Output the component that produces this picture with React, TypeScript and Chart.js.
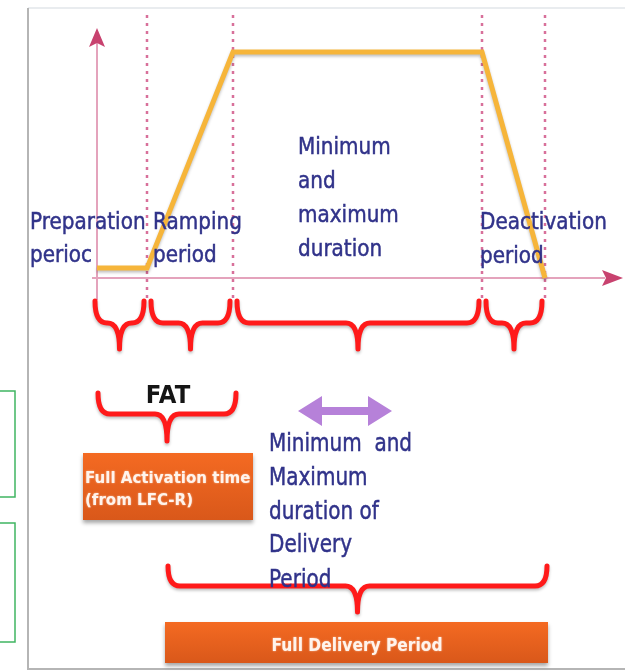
import { useEffect, useRef } from "react";
import { Chart, registerables } from "chart.js";

Chart.register(...registerables);

// Activation profile (time in arbitrary units, power normalised 0..1)
const phaseTimes = [0, 1, 2.72, 7.7, 8.96];
const powerLevels = [0.044, 0.044, 1, 1, 0];

const phaseLabels = [
  ["Preparation", "perioc"],
  ["Ramping", "period"],
  ["Minimum", "and", "maximum", "duration"],
  ["Deactivation", "period"],
];
const fatLabel = "FAT";
const fatBoxLines = ["Full Activation time", "(from LFC-R)"];
const deliveryNoteLines = ["Minimum  and", "Maximum", "duration of", "Delivery", "Period"];
const deliveryBoxLabel = "Full Delivery Period";

const NAVY = "#31338a";
const RED = "#ff1a1a";

function drawText(
  ctx: CanvasRenderingContext2D,
  s: string,
  x: number,
  y: number,
  font: string,
  color: string,
  sx: number,
  align: CanvasTextAlign = "left",
  stroke = 0
) {
  ctx.save();
  ctx.font = font;
  ctx.fillStyle = color;
  ctx.textAlign = align;
  ctx.textBaseline = "alphabetic";
  ctx.translate(x, y);
  ctx.scale(sx, 1);
  ctx.fillText(s, 0, 0);
  if (stroke > 0) {
    ctx.strokeStyle = color;
    ctx.lineWidth = stroke;
    ctx.strokeText(s, 0, 0);
  }
  ctx.restore();
}

function brace(
  ctx: CanvasRenderingContext2D,
  x0: number,
  x1: number,
  yTop: number,
  yMid: number,
  yTip: number
) {
  const xt = (x0 + x1) / 2;
  const r = Math.min(12, (x1 - x0) / 4);
  ctx.save();
  ctx.strokeStyle = RED;
  ctx.lineWidth = 5;
  ctx.lineCap = "round";
  ctx.lineJoin = "round";
  ctx.shadowColor = "rgba(0,0,0,0.25)";
  ctx.shadowBlur = 3;
  ctx.shadowOffsetY = 2;
  ctx.beginPath();
  ctx.moveTo(x0, yTop);
  ctx.quadraticCurveTo(x0, yMid, x0 + r, yMid);
  ctx.lineTo(xt - r, yMid);
  ctx.quadraticCurveTo(xt, yMid, xt, yTip);
  ctx.moveTo(xt, yTip);
  ctx.quadraticCurveTo(xt, yMid, xt + r, yMid);
  ctx.lineTo(x1 - r, yMid);
  ctx.quadraticCurveTo(x1, yMid, x1, yTop);
  ctx.stroke();
  ctx.restore();
}

function orangeBox(ctx: CanvasRenderingContext2D, x: number, y: number, w: number, h: number) {
  ctx.save();
  ctx.shadowColor = "rgba(0,0,0,0.35)";
  ctx.shadowBlur = 4;
  ctx.shadowOffsetY = 3;
  const g = ctx.createLinearGradient(0, y, 0, y + h);
  g.addColorStop(0, "#f46a22");
  g.addColorStop(1, "#d9581a");
  ctx.fillStyle = g;
  ctx.fillRect(x, y, w, h);
  ctx.restore();
}

const backgroundPlugin = {
  id: "diagramBackground",
  beforeDatasetsDraw(chart: any) {
    const ctx: CanvasRenderingContext2D = chart.ctx;
    const xs = chart.scales.x;
    const ys = chart.scales.y;
    const y0 = ys.getPixelForValue(0);
    const xAxis = xs.getPixelForValue(phaseTimes[0]);

    ctx.save();
    // frame
    ctx.strokeStyle = "#e2e6ea";
    ctx.lineWidth = 1.5;
    ctx.beginPath();
    ctx.moveTo(28, 8);
    ctx.lineTo(625, 8);
    ctx.stroke();
    ctx.strokeStyle = "#b5b5b5";
    ctx.lineWidth = 2;
    ctx.beginPath();
    ctx.moveTo(28, 8);
    ctx.lineTo(28, 669);
    ctx.lineTo(625, 669);
    ctx.stroke();
    // green side boxes
    ctx.strokeStyle = "#3fb561";
    ctx.lineWidth = 1.5;
    ctx.strokeRect(-2, 391, 17, 106);
    ctx.strokeRect(-2, 523, 17, 119);

    // dotted phase boundaries
    ctx.strokeStyle = "#d8709a";
    ctx.lineWidth = 2.5;
    ctx.setLineDash([3, 5]);
    for (let i = 1; i < phaseTimes.length; i++) {
      const px = xs.getPixelForValue(phaseTimes[i]);
      ctx.beginPath();
      ctx.moveTo(px, 15);
      ctx.lineTo(px, 300);
      ctx.stroke();
    }
    ctx.setLineDash([]);

    // axes
    ctx.strokeStyle = "#e4a3bc";
    ctx.lineWidth = 2;
    ctx.beginPath();
    ctx.moveTo(xAxis, 300);
    ctx.lineTo(xAxis, 40);
    ctx.moveTo(xAxis - 5, y0);
    ctx.lineTo(605, y0);
    ctx.stroke();
    ctx.fillStyle = "#c8426f";
    ctx.beginPath();
    ctx.moveTo(xAxis, 28);
    ctx.lineTo(xAxis + 8, 47);
    ctx.lineTo(xAxis, 43);
    ctx.lineTo(xAxis - 8, 47);
    ctx.closePath();
    ctx.fill();
    ctx.beginPath();
    ctx.moveTo(623, y0);
    ctx.lineTo(602, y0 - 8);
    ctx.lineTo(606, y0);
    ctx.lineTo(602, y0 + 8);
    ctx.closePath();
    ctx.fill();
    ctx.restore();

    // line shadow
    ctx.save();
    ctx.shadowColor = "rgba(0,0,0,0.25)";
    ctx.shadowBlur = 3;
    ctx.shadowOffsetY = 2;
  },
  afterDatasetsDraw(chart: any) {
    const ctx: CanvasRenderingContext2D = chart.ctx;
    ctx.restore();
    const xs = chart.scales.x;
    const px = (t: number) => xs.getPixelForValue(t);

    // phase labels
    const f = "23px 'DejaVu Sans'";
    const sx = 0.87;
    const labelX = [30, 153, 298, 480];
    const baselines = [
      [229, 262],
      [229, 262],
      [154, 188, 222, 256],
      [229, 263],
    ];
    phaseLabels.forEach((lines, i) => {
      lines.forEach((s, j) => drawText(ctx, s, labelX[i], baselines[i][j], f, NAVY, sx, "left", 0.5));
    });

    // phase braces
    for (let i = 0; i < phaseTimes.length - 1; i++) {
      const a = px(phaseTimes[i]) + (i === 0 ? -2 : 4);
      const b = px(phaseTimes[i + 1]) - 3;
      brace(ctx, a, b, 301, 323, 349);
    }

    // FAT
    drawText(ctx, fatLabel, 168, 403, "bold 24px 'DejaVu Sans'", "#151515", 0.95, "center");
    brace(ctx, px(phaseTimes[0]) + 1, px(phaseTimes[2]) + 3, 393, 414, 441);
    orangeBox(ctx, 83, 453, 170, 67);
    ctx.save();
    ctx.shadowColor = "rgba(255,255,255,0.6)";
    ctx.shadowBlur = 2;
    drawText(ctx, fatBoxLines[0], 85, 483, "bold 16px 'DejaVu Sans'", "#fff4ec", 0.94);
    drawText(ctx, fatBoxLines[1], 85, 505, "bold 16px 'DejaVu Sans'", "#fff4ec", 0.94);
    ctx.restore();

    // purple double arrow
    ctx.save();
    ctx.fillStyle = "#b681d9";
    const ay = 411;
    ctx.beginPath();
    ctx.moveTo(298, ay);
    ctx.lineTo(322, ay - 15);
    ctx.lineTo(322, ay - 4);
    ctx.lineTo(368, ay - 4);
    ctx.lineTo(368, ay - 15);
    ctx.lineTo(392, ay);
    ctx.lineTo(368, ay + 15);
    ctx.lineTo(368, ay + 4);
    ctx.lineTo(322, ay + 4);
    ctx.lineTo(322, ay + 15);
    ctx.closePath();
    ctx.fill();
    ctx.restore();

    // delivery big brace + box
    brace(ctx, 168, 547, 566, 586, 612);
    const noteBase = [451, 485, 519, 552, 587];
    deliveryNoteLines.forEach((s, j) =>
      drawText(ctx, s, 269, noteBase[j], "25px 'DejaVu Sans'", NAVY, 0.8, "left", 0.5)
    );
    orangeBox(ctx, 165, 622, 383, 41);
    ctx.save();
    ctx.shadowColor = "rgba(255,255,255,0.6)";
    ctx.shadowBlur = 2;
    drawText(ctx, deliveryBoxLabel, 357, 651, "bold 18px 'DejaVu Sans'", "#fff4ec", 0.86, "center");
    ctx.restore();
  },
};

export default function App() {
  const ref = useRef<HTMLCanvasElement | null>(null);
  useEffect(() => {
    if (!ref.current) return;
    const points = phaseTimes.map((t, i) => ({ x: t, y: powerLevels[i] }));
    const chart = new Chart(ref.current, {
      type: "line",
      data: {
        datasets: [
          {
            data: points,
            borderColor: "#f6b53a",
            borderWidth: 5,
            pointRadius: 0,
            tension: 0,
            fill: false,
            clip: false as any,
          },
        ],
      },
      options: {
        responsive: false,
        animation: false,
        layout: { padding: 0 },
        plugins: { legend: { display: false }, tooltip: { enabled: false } },
        scales: {
          x: { type: "linear", min: -1.94, max: 10.56, display: false },
          y: { type: "linear", min: -1.743, max: 1.23, display: false },
        },
      },
      plugins: [backgroundPlugin],
    });
    return () => chart.destroy();
  }, []);
  return (
    <div style={{ position: "fixed", left: 0, top: 0, width: 625, height: 672, background: "#fff" }}>
      <canvas ref={ref} width={625} height={672} />
    </div>
  );
}
